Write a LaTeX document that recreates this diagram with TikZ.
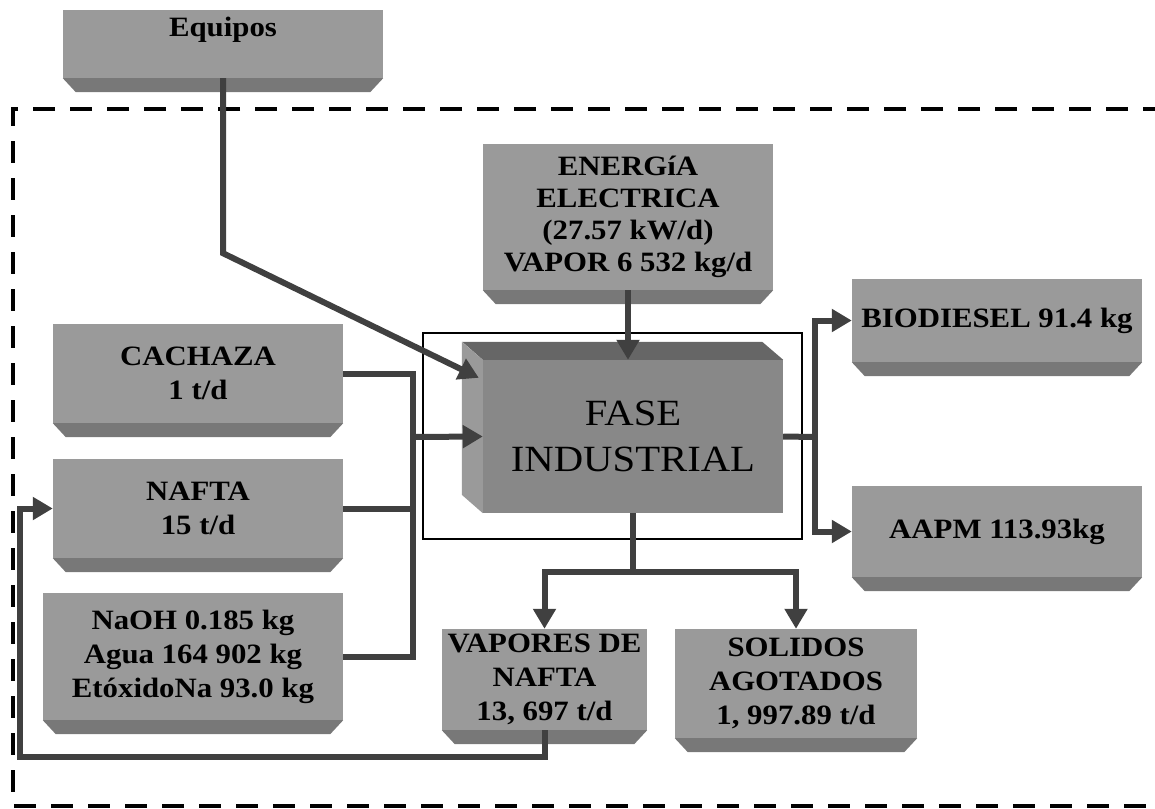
\documentclass[tikz,border=0pt]{standalone}
\usepackage{fontspec}
\setmainfont{Liberation Serif}[FakeStretch=1.1]
\usetikzlibrary{arrows.meta}
\definecolor{cara}{RGB}{154,154,154}
\definecolor{bisel}{RGB}{120,120,120}
\definecolor{frente}{RGB}{136,136,136}
\definecolor{techo}{RGB}{102,102,102}
\definecolor{linea}{RGB}{64,64,64}
\tikzset{
  bloque/.style={fill=cara, inner sep=0pt, align=center, font=\fontsize{28}{34}\selectfont\bfseries},
  flujo/.style={draw=linea, line width=6pt},
  flecha/.style={flujo, -{Triangle[length=20pt,width=22pt]}},
  limite/.style={line width=4pt, dash pattern=on 22pt off 15pt}
}
\begin{document}
\begin{tikzpicture}[x=1pt,y=-1pt]
\useasboundingbox (0,0) rectangle (1155,808);
\draw[limite] (1165,109) -- (13,109) -- (13,806) -- (1165,806);
\draw[line width=2pt] (423,333) rectangle (802,539);

\node[bloque, minimum width=320pt, minimum height=68pt, text height=19pt, text depth=33pt] (equipos) at (223,44) {Equipos};
\node[bloque, minimum width=290pt, minimum height=146pt, font=\fontsize{28}{32}\selectfont\bfseries] (energia) at (628,217) {ENERGíA\\ELECTRICA\\(27.57 kW/d)\\VAPOR 6 532 kg/d};
\node[bloque, minimum width=290pt, minimum height=99pt] (cachaza) at (198,373.5) {CACHAZA\\1 t/d};
\node[bloque, minimum width=290pt, minimum height=99pt] (nafta) at (198,508.5) {NAFTA\\15 t/d};
\node[bloque, minimum width=300pt, minimum height=127pt] (naoh) at (193,656.5) {NaOH 0.185 kg\\Agua 164 902 kg\\EtóxidoNa 93.0 kg};
\node[bloque, minimum width=290pt, minimum height=83pt] (biodiesel) at (997,320.5) {BIODIESEL 91.4 kg};
\node[bloque, minimum width=290pt, minimum height=91pt] (aapm) at (997,531.5) {AAPM 113.93kg};
\node[bloque, minimum width=205pt, minimum height=101pt] (vapores) at (544.5,679.5) {VAPORES DE\\NAFTA\\13, 697 t/d};
\node[bloque, minimum width=242pt, minimum height=109pt] (solidos) at (796,683.5) {SOLIDOS\\AGOTADOS\\1, 997.89 t/d};
\foreach \n in {equipos,energia,cachaza,nafta,naoh,biodiesel,aapm,vapores,solidos}
  \fill[bisel] (\n.south west) -- (\n.south east) -- ([shift={(-13,14)}]\n.south east) -- ([shift={(13,14)}]\n.south west) -- cycle;

\node[fill=frente, inner sep=0pt, minimum width=300pt, minimum height=153pt, align=center, font=\fontsize{37}{46}\selectfont] (fase) at (633,436.5) {FASE\\INDUSTRIAL};
\fill[techo] (fase.north west) -- (fase.north east) -- ++(-21,-18) -- ++(-300,0) -- cycle;
\fill[cara] (fase.north west) -- ++(-21,-18) -- ++(0,153) -- (fase.south west) -- cycle;

\coordinate (colector) at (413,437);
\coordinate (salida) at (815,437);
\draw[flecha] (equipos.south) -- ++(0,175) -- ([shift={(-4,18)}]fase.north west);
\draw[flecha] (energia.south) -- (energia.south |- fase.north);
\draw[flujo] (cachaza.east) -| (colector |- naoh.east) -- (naoh.east);
\draw[flujo] (nafta.east) -- (colector |- nafta.east);
\draw[flecha] (colector) -- (fase.west);
\draw[flujo] (fase.east) -- (salida);
\draw[flecha] (salida) |- (biodiesel.west);
\draw[flecha] (salida) |- (aapm.west);
\draw[flujo] (fase.south) -- ++(0,59) coordinate (reparto);
\draw[flecha] (reparto) -| (vapores.north);
\draw[flecha] (reparto) -| (solidos.north);
\draw[flecha] (vapores.south) -- ++(0,27) -| ([xshift=-33pt]nafta.west) -- (nafta.west);
\end{tikzpicture}
\end{document}
